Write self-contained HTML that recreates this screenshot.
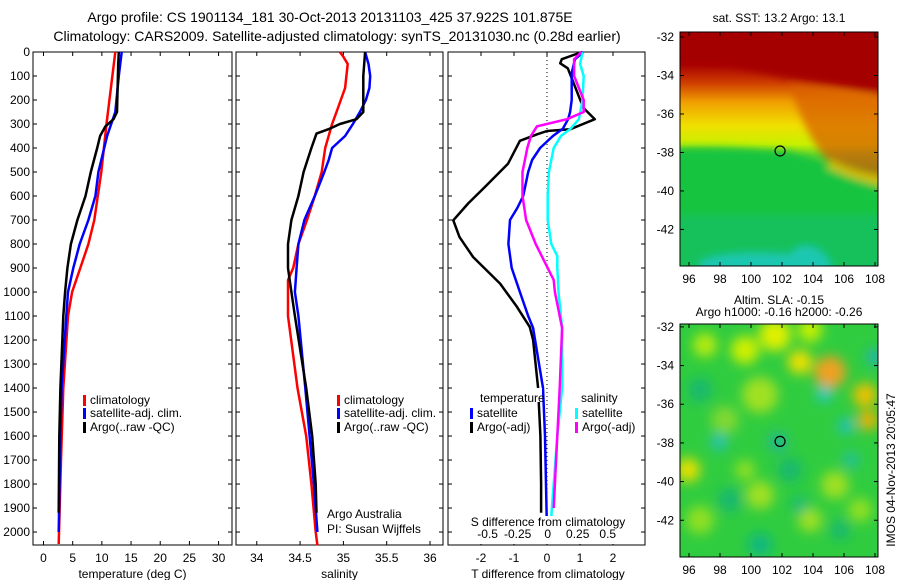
<!DOCTYPE html>
<html><head><meta charset="utf-8"><style>
body{margin:0;background:#fff;}
svg{display:block;font-family:"Liberation Sans",sans-serif;}
</style></head><body>
<svg id="c" width="900" height="580" viewBox="0 0 900 580">
<defs>
<linearGradient id="sstg" x1="0" y1="0" x2="0" y2="1">
<stop offset="0" stop-color="#a40000"/><stop offset="0.14" stop-color="#a80000"/>
<stop offset="0.22" stop-color="#d04000"/><stop offset="0.30" stop-color="#f0a000"/>
<stop offset="0.40" stop-color="#f0e000"/><stop offset="0.48" stop-color="#c8f000"/>
<stop offset="0.53" stop-color="#50d030"/><stop offset="0.58" stop-color="#10c040"/>
<stop offset="0.85" stop-color="#10c070"/><stop offset="1" stop-color="#20c8b0"/>
</linearGradient>
<filter id="blur"><feGaussianBlur stdDeviation="6"/></filter>
<filter id="blur2"><feGaussianBlur stdDeviation="4"/></filter>
<clipPath id="m2clip"><rect x="680" y="324" width="198" height="233"/></clipPath>
<clipPath id="m1clip"><rect x="680" y="32" width="198" height="234"/></clipPath>
</defs>
<text x="330" y="22" text-anchor="middle" font-size="14">Argo profile: CS 1901134_181 30-Oct-2013 20131103_425 37.922S 101.875E</text>
<text x="337" y="41" text-anchor="middle" font-size="14">Climatology: CARS2009. Satellite-adjusted climatology: synTS_20131030.nc (0.28d earlier)</text>
<g id="plots"></g>
</svg>
<script>
// ---- data ----
const depthRedT=[0,300,500,700,800,900,1000,1100,1400,1700,2050];
const tempClim=[12.3,10.8,9.9,8.7,7.7,6.3,4.9,4.2,3.4,3.0,2.6];
const depthBlueT=[0,100,250,350,500,600,700,800,900,1000,1100,1400,1600,2000];
const tempSat=[13.4,12.9,12.3,10.9,9.4,8.9,7.7,6.2,5.1,4.2,3.9,3.1,2.9,2.6];
const depthBlackT=[0,50,250,280,310,350,400,500,600,700,800,900,1000,1100,1400,1600,1920];
const tempArgo=[12.9,12.8,12.6,12.0,10.6,9.7,9.2,8.1,7.2,5.8,4.7,4.1,3.7,3.4,2.9,2.7,2.6];

const depthRedS=[0,20,50,150,250,300,400,500,600,700,800,900,950,1100,1400,1600,1800,2000,2055];
const salClim=[34.96,35.0,35.05,35.02,34.92,34.87,34.79,34.75,34.67,34.58,34.48,34.42,34.36,34.36,34.47,34.57,34.63,34.68,34.7];
const depthBlueS=[0,50,100,150,200,250,300,350,400,450,500,600,700,800,900,1000,1100,1400,1600,1800,2000];
const salSat=[35.25,35.29,35.31,35.3,35.26,35.19,35.11,35.02,34.87,34.83,34.78,34.67,34.55,34.48,34.46,34.44,34.48,34.56,34.61,34.66,34.7];
const depthBlackS=[0,100,250,280,300,320,340,400,500,600,700,800,900,1000,1100,1400,1600,1800,1920];
const salArgo=[35.25,35.23,35.23,35.15,34.96,34.84,34.69,34.63,34.54,34.48,34.4,34.36,34.36,34.4,34.44,34.57,34.64,34.68,34.69];

const depthTdA=[0,30,47,68,232,280,322,329,343,370,465,562,631,701,771,854,965,1062,1146,1200,1400,1600,1800,1920];
const tDiffArgo=[1.06,0.45,0.4,0.63,1.1,1.45,0.7,0,-0.3,-0.82,-1.18,-1.88,-2.39,-2.84,-2.65,-2.24,-1.42,-0.91,-0.52,-0.42,-0.27,-0.2,-0.18,-0.18];
const depthTdS=[0,30,88,200,250,280,320,350,400,450,500,600,650,700,800,900,1000,1100,1150,1400,1600,2000];
const tDiffSat=[1.1,0.85,0.75,0.75,0.7,0.64,0.48,0.18,-0.21,-0.45,-0.57,-0.72,-0.9,-1.12,-1.17,-1.07,-0.82,-0.57,-0.42,-0.12,-0.06,0];
const depthSdS=[0,50,100,200,280,320,350,400,500,600,700,800,850,900,1000,1150,1400,1600,1800,2000];
const sDiffSat=[0.29,0.27,0.3,0.29,0.26,0.19,0.11,0.05,0.01,0,0,0.03,0.08,0.08,0.09,0.12,0.12,0.08,0.05,0.02];
const depthSdA=[0,30,100,200,250,280,310,350,400,500,600,700,800,900,950,1000,1150,1400,1600,1800,1900];
const sDiffArgo=[0.28,0.22,0.22,0.3,0.3,0.16,-0.09,-0.14,-0.17,-0.21,-0.21,-0.18,-0.1,0,0.05,0.06,0.12,0.1,0.08,0.06,0.05];

const depthTicks=[0,100,200,300,400,500,600,700,800,900,1000,1100,1200,1300,1400,1500,1600,1700,1800,1900,2000];
const tempTicks=[0,5,10,15,20,25,30];
const salTicks=[34,34.5,35,35.5,36];
const tdTicks=[-2,-1,0,1,2];
const sdTicks=[-0.5,-0.25,0,0.25,0.5];
const sdTickLabels=["-0.5","-0.25","0","0.25","0.5"];
const lonTicks=[96,98,100,102,104,106,108];
const latTicks=[-32,-34,-36,-38,-40,-42];
const argoLon=101.875, argoLat=-37.922;

// ---- axes ----
const Y0=52,Y1=545;
const yD=d=>Y0+(d-0)*(Y1-Y0)/2054;
const P1={l:33,r:232}, P2={l:236,r:443}, P3={l:448,r:645};
const xT=v=>P1.l+(v+1.8)*(P1.r-P1.l)/34.1;
const xS=v=>P2.l+(v-33.76)*(P2.r-P2.l)/2.39;
const xTd=v=>P3.l+(v+3)*(P3.r-P3.l)/5.97;
const xSd=v=>P3.l+(v+0.83)*(P3.r-P3.l)/1.64;
const M1={l:680,r:878,t:32,b:266,lat0:-31.74,lat1:-43.9};
const M2={l:680,r:878,t:324,b:557,lat0:-31.85,lat1:-43.9};
const xLon=v=>689+(v-96)*(875-689)/12;
const yLat=(m,v)=>m.t+(v-m.lat0)*(m.b-m.t)/(m.lat1-m.lat0);

const NS="http://www.w3.org/2000/svg";
const G=document.getElementById('plots');
function mk(tag,attrs,parent){const e=document.createElementNS(NS,tag);for(const k in attrs)e.setAttribute(k,attrs[k]);(parent||G).appendChild(e);return e;}
function txt(x,y,s,size,anchor,parent){const t=mk('text',{x:x,y:y,'font-size':size,'text-anchor':anchor||'middle'},parent);t.textContent=s;return t;}

function panel(P,name){
  const g=mk('g',{});
  
  
  const r=mk('rect',{x:P.l,y:Y0,width:P.r-P.l,height:Y1-Y0,fill:'none',stroke:'#000','stroke-width':1},g);
  
  
  depthTicks.forEach(d=>{mk('line',{x1:P.l,x2:P.l+4,y1:yD(d),y2:yD(d),stroke:'#000'},g);mk('line',{x1:P.r,x2:P.r-4,y1:yD(d),y2:yD(d),stroke:'#000'},g);});
  return g;
}
function xticks(g,ticks,fx,labels){
  ticks.forEach((t,i)=>{const x=fx(t);mk('line',{x1:x,x2:x,y1:Y0,y2:Y0+4,stroke:'#000'},g);mk('line',{x1:x,x2:x,y1:Y1,y2:Y1-4,stroke:'#000'},g);
    const lb=txt(x,562,labels?labels[i]:String(t),12,'middle',g);
    
    });
}
function series(g,ds,vs,fx,color,name,w){
  const pts=ds.map((d,i)=>fx(vs[i]).toFixed(1)+','+yD(d).toFixed(1)).join(' ');
  const p=mk('polyline',{points:pts,fill:'none',stroke:color,'stroke-width':w||2.5,'stroke-linejoin':'round'},g);
  
  
}
function legend(g,x,y,color,label){
  mk('rect',{x:x,y:y-9,width:3,height:11,fill:color},g);
  const t=txt(x+7,y,label,12,'start',g);
  
  
}

// panel 1
const g1=panel(P1,'temperature-panel');
depthTicks.forEach(d=>{const t=txt(30,yD(d)+4,String(d),12,'end',g1);
  
  });
xticks(g1,tempTicks,xT);
series(g1,depthRedT,tempClim,xT,'#ff0000','temp-climatology-line');
series(g1,depthBlueT,tempSat,xT,'#0000ff','temp-satellite-line');
series(g1,depthBlackT,tempArgo,xT,'#000000','temp-argo-line');
let at=txt((P1.l+P1.r)/2,578,'temperature (deg C)',12,'middle',g1);


legend(g1,83,404,'#ff0000','climatology');legend(g1,83,417,'#0000ff','satellite-adj. clim.');legend(g1,83,431,'#000','Argo(..raw -QC)');

// panel 2
const g2=panel(P2,'salinity-panel');
xticks(g2,salTicks,xS);
series(g2,depthRedS,salClim,xS,'#ff0000','sal-climatology-line');
series(g2,depthBlueS,salSat,xS,'#0000ff','sal-satellite-line');
series(g2,depthBlackS,salArgo,xS,'#000000','sal-argo-line');
at=txt((P2.l+P2.r)/2,578,'salinity',12,'middle',g2);


legend(g2,337,404,'#ff0000','climatology');legend(g2,337,417,'#0000ff','satellite-adj. clim.');legend(g2,337,431,'#000','Argo(..raw -QC)');
let ct=txt(327,518,'Argo Australia',12,'start',g2);

ct=txt(327,533,'PI: Susan Wijffels',12,'start',g2);


// panel 3
const g3=panel(P3,'difference-panel');
xticks(g3,tdTicks,xTd);
mk('line',{x1:xTd(0),x2:xTd(0),y1:Y0,y2:Y1,stroke:'#000','stroke-dasharray':'1,3'},g3);
series(g3,depthTdA,tDiffArgo,xTd,'#000000','tdiff-argo-line');
series(g3,depthTdS,tDiffSat,xTd,'#0000ff','tdiff-satellite-line');
series(g3,depthSdS,sDiffSat,xSd,'#00ffff','sdiff-satellite-line');
series(g3,depthSdA,sDiffArgo,xSd,'#ff00ff','sdiff-argo-line');
mk('rect',{x:466,y:516,width:170,height:28,fill:'#fff'},g3);
sdTicks.forEach((t,i)=>{const l=txt(xSd(t),538,sdTickLabels[i],12,'middle',g3);
  });
at=txt(548,526,'S difference from climatology',12,'middle',g3);

at=txt(548,578,'T difference from climatology',12,'middle',g3);

mk('rect',{x:478,y:388,width:64,height:14,fill:'#fff'},g3);
at=txt(480,402,'temperature',12,'start',g3);

at=txt(581,402,'salinity',12,'start',g3);

legend(g3,470,417,'#0000ff','satellite');legend(g3,470,431,'#000','Argo(-adj)');
legend(g3,575,417,'#00ffff','satellite');legend(g3,575,431,'#ff00ff','Argo(-adj)');

// ---- maps ----
function mapAxes(M,name){
  const g=mk('g',{});
  
  
  return g;
}
function mapFrame(g,M){
  mk('rect',{x:M.l,y:M.t,width:M.r-M.l,height:M.b-M.t,fill:'none',stroke:'#000'},g);
  latTicks.forEach(v=>{const y=yLat(M,v);mk('line',{x1:M.l,x2:M.l+4,y1:y,y2:y,stroke:'#000'},g);mk('line',{x1:M.r,x2:M.r-4,y1:y,y2:y,stroke:'#000'},g);
    const t=txt(674,y+4,String(v),12,'end',g);});
  lonTicks.forEach(v=>{const x=xLon(v);mk('line',{x1:x,x2:x,y1:M.b,y2:M.b-4,stroke:'#000'},g);mk('line',{x1:x,x2:x,y1:M.t,y2:M.t+4,stroke:'#000'},g);
    const t=txt(x,M.b+17,String(v),12,'middle',g);});
  const c=mk('ellipse',{cx:xLon(argoLon),cy:yLat(M,argoLat),rx:5,ry:5,fill:'none',stroke:'#000','stroke-width':1.2},g);
  
}
const gm1=mapAxes(M1,'sst-map');
const gi1=mk('g',{'clip-path':'url(#m1clip)'},gm1);
mk('rect',{x:680,y:32,width:198,height:234,fill:'url(#sstg)'},gi1);
const sb=mk('g',{filter:'url(#blur2)'},gi1);
mk('path',{d:'M670,25 H890 V95 C860,90 835,85 810,82 C780,78 750,70 720,62 L670,60Z',fill:'#a40000'},sb);
mk('path',{d:'M790,85 C830,90 860,95 890,95 V185 C870,182 850,178 835,168 C815,150 800,120 790,85Z',fill:'#d86000',opacity:0.75},sb);
mk('path',{d:'M830,160 C850,170 870,175 890,178 V196 C860,196 840,190 820,178Z',fill:'#e0d000',opacity:0.8},sb);
mk('path',{d:'M670,148 C710,146 750,148 790,152 C815,160 840,178 890,188 V290 H670Z',fill:'#18c440'},sb);
mk('path',{d:'M680,215 H890 V290 H680Z',fill:'#10c070',opacity:0.6},sb);
mk('path',{d:'M700,262 C720,252 760,252 790,255 C800,240 820,245 830,262 V275 H700Z',fill:'#20c8c8',opacity:0.8},sb);
let mt=txt(779,22,'sat. SST: 13.2 Argo: 13.1',12,'middle',gm1);

mapFrame(gm1,M1);

const gm2=mapAxes(M2,'sla-map');
const gi2=mk('g',{'clip-path':'url(#m2clip)'},gm2);
mk('rect',{x:680,y:324,width:198,height:233,fill:'#30cc40'},gi2);
const blobs=[[705,345,'#b8ec10',12],[745,350,'#d0f000',14],[775,335,'#e0f000',16],[810,330,'#c8f000',12],[830,372,'#f0a020',16],[800,362,'#f0e000',12],[865,395,'#f0c000',12],[868,420,'#f0b000',10],[688,470,'#e8e000',12],[760,395,'#a0e020',18],[760,495,'#a0e020',14],[835,485,'#a0e020',14],[810,520,'#a0e020',12],[725,420,'#80d830',14],[700,520,'#90e020',14],[860,510,'#90e020',12],[745,470,'#90e020',10],
[700,390,'#18b870',12],[730,500,'#18b870',12],[790,470,'#18b870',12],[840,530,'#18b870',10],
[824,394,'#20c8c8',8],[846,426,'#20c0c0',8],[719,442,'#20c0c0',8],[778,442,'#20b890',10],[851,460,'#20c0a0',8],[875,357,'#20b0c0',8],[760,545,'#10b880',12],[800,505,'#10b880',8]];
const bg=mk('g',{filter:'url(#blur)'},gi2);
blobs.forEach(b=>mk('circle',{cx:b[0],cy:b[1],r:b[3],fill:b[2]},bg));
mt=txt(779,304,'Altim. SLA: -0.15',12,'middle',gm2);

mt=txt(779,316,'Argo h1000: -0.16 h2000: -0.26',12,'middle',gm2);

mapFrame(gm2,M2);
const side=mk('text',{x:0,y:0,'font-size':12,'text-anchor':'middle',transform:'translate(895,470) rotate(-90)'},gm2);
side.textContent='IMOS 04-Nov-2013 20:05:47';


</script>
</body></html>
